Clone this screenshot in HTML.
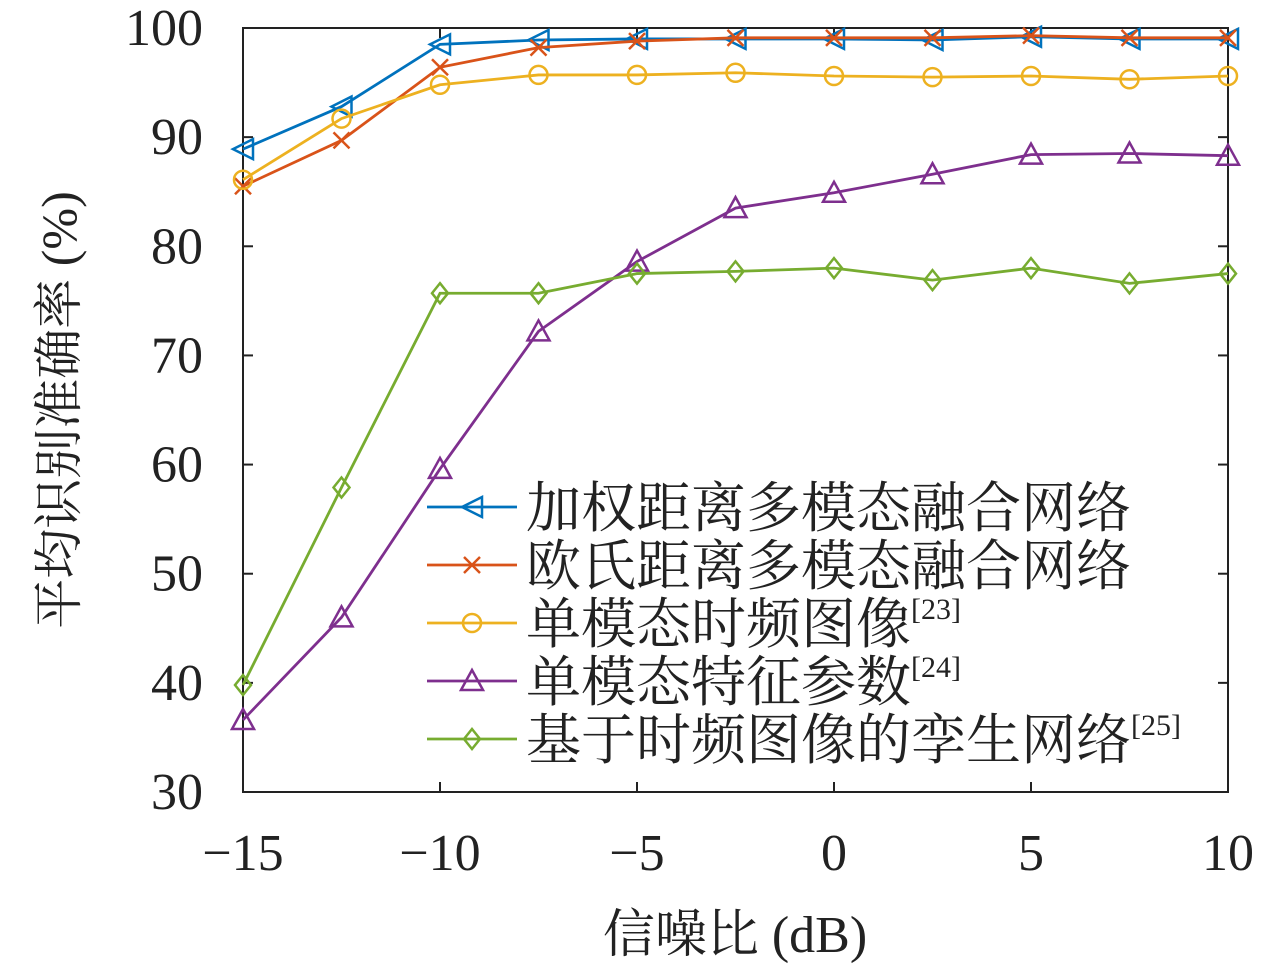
<!DOCTYPE html>
<html><head><meta charset="utf-8">
<style>
body{margin:0;background:#fff;}
svg{display:block;}
text{font-family:"Liberation Serif","Noto Serif CJK SC","Noto Sans CJK SC",serif;fill:#222;}
</style></head>
<body>
<svg id="chart" width="1280" height="970" viewBox="0 0 1280 970" xmlns="http://www.w3.org/2000/svg">
<g id="grid"></g>
<g id="series"></g>
<g id="legend"></g>
</svg>
<script>
const snr = [-15,-12.5,-10,-7.5,-5,-2.5,0,2.5,5,7.5,10];
const weighted = [88.9,92.8,98.5,98.9,99.0,99.0,99.0,98.9,99.2,99.0,99.0];
const euclid = [85.5,89.7,96.4,98.2,98.8,99.1,99.1,99.1,99.3,99.1,99.1];
const tfImage = [86.1,91.7,94.8,95.7,95.7,95.9,95.6,95.5,95.6,95.3,95.6];
const featParam = [36.6,46.0,59.6,72.2,78.6,83.5,84.9,86.6,88.4,88.5,88.3];
const siamese = [39.8,57.9,75.7,75.7,77.5,77.7,78.0,76.9,78.0,76.6,77.5];
const xTicks = [-15,-10,-5,0,5,10];
const xTickLabels = ["\u221215","\u221210","\u22125","0","5","10"];
const yTicks = [30,40,50,60,70,80,90,100];
const legendLabels = ["加权距离多模态融合网络","欧氏距离多模态融合网络","单模态时频图像","单模态特征参数","基于时频图像的孪生网络"];
const legendRefs = ["","","[23]","[24]","[25]"];

const L=243,R=1228,T=28,B=792;
const X=v=>L+(v+15)/25*(R-L);
const Y=v=>B-(v-30)/70*(B-T);
const NS="http://www.w3.org/2000/svg";
function mk(tag,attrs,parent){const e=document.createElementNS(NS,tag);for(const k in attrs)e.setAttribute(k,attrs[k]);parent.appendChild(e);return e;}
const grid=document.getElementById('grid');
const box=mk('rect',{x:L,y:T,width:R-L,height:B-T,fill:'none',stroke:'#222','stroke-width':2},grid);


xTicks.forEach((v,i)=>{
  const x=X(v);
  mk('line',{x1:x,y1:B,x2:x,y2:B-10,stroke:'#222','stroke-width':2},grid);
  mk('line',{x1:x,y1:T,x2:x,y2:T+10,stroke:'#222','stroke-width':2},grid);
  const t=mk('text',{x:x,y:870,'font-size':52,'text-anchor':'middle'},grid);
  t.textContent=xTickLabels[i];
  
  
});
yTicks.forEach(v=>{
  const y=Y(v);
  mk('line',{x1:L,y1:y,x2:L+10,y2:y,stroke:'#222','stroke-width':2},grid);
  mk('line',{x1:R,y1:y,x2:R-10,y2:y,stroke:'#222','stroke-width':2},grid);
  const t=mk('text',{x:203,y:y+17,'font-size':52,'text-anchor':'end'},grid);
  t.textContent=v;
  
  
});
const xt=mk('text',{x:735,y:952,'font-size':52,'text-anchor':'middle'},grid);
xt.textContent='信噪比 (dB)';


const yt=mk('text',{x:0,y:0,'font-size':50,'text-anchor':'middle',transform:'translate(76,410) rotate(-90)'},grid);
yt.textContent='平均识别准确率 (%)';



function marker(type,x,y,c,p){
  const s=10;
  if(type==='tri-left') mk('polygon',{points:`${x-s},${y} ${x+s},${y-s} ${x+s},${y+s}`,fill:'none',stroke:c,'stroke-width':2.5},p);
  else if(type==='x'){mk('line',{x1:x-8,y1:y-8,x2:x+8,y2:y+8,stroke:c,'stroke-width':2.5},p);mk('line',{x1:x-8,y1:y+8,x2:x+8,y2:y-8,stroke:c,'stroke-width':2.5},p);}
  else if(type==='circle') mk('circle',{cx:x,cy:y,r:9,fill:'none',stroke:c,'stroke-width':2.5},p);
  else if(type==='tri-up') mk('polygon',{points:`${x},${y-11} ${x-11},${y+9} ${x+11},${y+9}`,fill:'none',stroke:c,'stroke-width':2.5},p);
  else if(type==='diamond') mk('polygon',{points:`${x},${y-10} ${x+8},${y} ${x},${y+10} ${x-8},${y}`,fill:'none',stroke:c,'stroke-width':2.5},p);
}
const seriesList=[
  {d:weighted,c:'#0072BD',m:'tri-left',n:'series-weighted-distance'},
  {d:euclid,c:'#D95319',m:'x',n:'series-euclidean-distance'},
  {d:tfImage,c:'#EDB120',m:'circle',n:'series-tf-image'},
  {d:featParam,c:'#7E2F8E',m:'tri-up',n:'series-feature-params'},
  {d:siamese,c:'#77AC30',m:'diamond',n:'series-siamese'}
];
const sg=document.getElementById('series');
seriesList.forEach(s=>{
  const g=mk('g',{},sg);
  
  
  mk('polyline',{points:s.d.map((v,i)=>X(snr[i])+','+Y(v)).join(' '),fill:'none',stroke:s.c,'stroke-width':2.8},g);
  s.d.forEach((v,i)=>marker(s.m,X(snr[i]),Y(v),s.c,g));
});
const lg=document.getElementById('legend');
seriesList.forEach((s,i)=>{
  const y=507+i*58;
  const g=mk('g',{},lg);
  
  
  mk('line',{x1:427,y1:y,x2:517,y2:y,stroke:s.c,'stroke-width':2.8},g);
  marker(s.m,472,y,s.c,g);
  const t=mk('text',{x:526,y:y+20,'font-size':55},g);
  t.textContent=legendLabels[i];
  if(legendRefs[i]){
    const ts=mk('tspan',{'font-size':30,dy:-24},t);
    ts.textContent=legendRefs[i];
  }
});
</script>
</body></html>
